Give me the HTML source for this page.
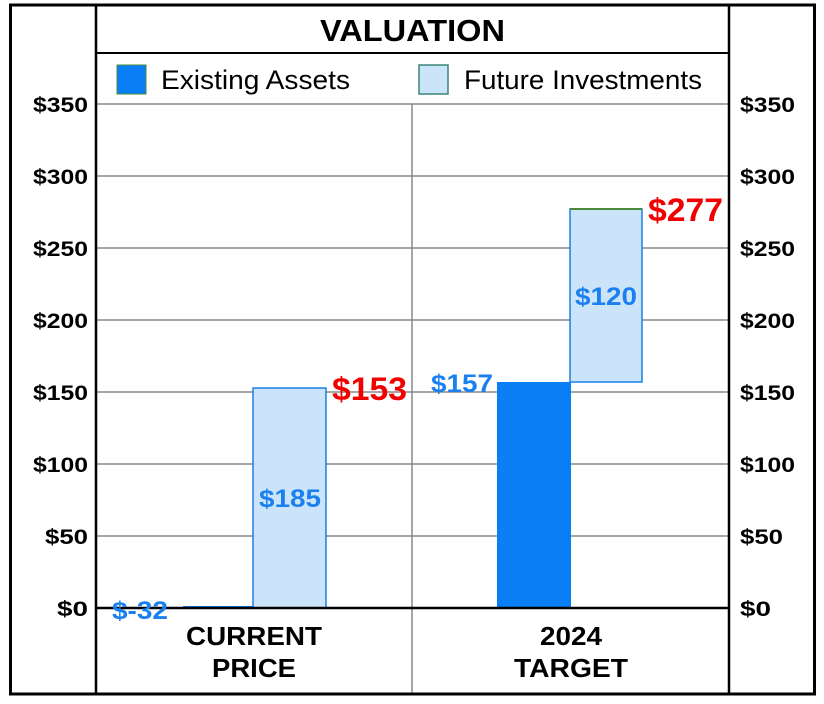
<!DOCTYPE html><html><head><style>body{margin:0;background:#fff}svg{display:block}text{font-family:"Liberation Sans",Arial,sans-serif}</style></head><body>
<svg width="824" height="704" viewBox="0 0 824 704">
<rect x="0" y="0" width="824" height="704" fill="#fff"/>
<g stroke="#888" stroke-width="1.5">
<line x1="96" y1="104" x2="729" y2="104"/><line x1="96" y1="176" x2="729" y2="176"/><line x1="96" y1="248" x2="729" y2="248"/><line x1="96" y1="320" x2="729" y2="320"/><line x1="96" y1="392" x2="729" y2="392"/><line x1="96" y1="464" x2="729" y2="464"/><line x1="96" y1="536" x2="729" y2="536"/>
<line x1="412" y1="104" x2="412" y2="694"/>
</g>
<rect x="253" y="388" width="73" height="220" fill="#cce4fa" stroke="#1a80e8" stroke-width="1.5"/>
<line x1="183" y1="607" x2="253" y2="607" stroke="#0a7ff5" stroke-width="2"/>
<rect x="497" y="382" width="74" height="226" fill="#0a7ff5"/>
<rect x="570" y="209" width="72" height="173" fill="#cce4fa" stroke="#1a80e8" stroke-width="1.5"/>
<line x1="570" y1="209" x2="642" y2="209" stroke="#4a8a3a" stroke-width="2"/>
<line x1="96" y1="608" x2="729" y2="608" stroke="#000" stroke-width="2.5"/>
<rect x="10.5" y="5" width="804" height="689" fill="none" stroke="#000" stroke-width="3"/>
<line x1="96" y1="5" x2="96" y2="694" stroke="#000" stroke-width="2.5"/>
<line x1="729" y1="5" x2="729" y2="694" stroke="#000" stroke-width="2.5"/>
<line x1="96" y1="53" x2="729" y2="53" stroke="#000" stroke-width="2"/>
<text x="320" y="41" font-size="31" font-weight="bold" textLength="185" lengthAdjust="spacingAndGlyphs">VALUATION</text>
<rect x="117" y="65" width="29" height="29" fill="#0a7ff5" stroke="#4a8a3a" stroke-width="1"/>
<text x="161" y="89" font-size="27" textLength="189" lengthAdjust="spacingAndGlyphs">Existing Assets</text>
<rect x="419" y="65" width="29" height="29" fill="#cce4fa" stroke="#1a80e8" stroke-width="1.5"/>
<rect x="419" y="65" width="29" height="29" fill="none" stroke="#4a8a3a" stroke-width="1"/>
<text x="464" y="89" font-size="27" textLength="238" lengthAdjust="spacingAndGlyphs">Future Investments</text>
<g font-size="21" font-weight="bold">
<text x="33" y="112" textLength="55" lengthAdjust="spacingAndGlyphs">$350</text><text x="33" y="184" textLength="55" lengthAdjust="spacingAndGlyphs">$300</text><text x="33" y="256" textLength="55" lengthAdjust="spacingAndGlyphs">$250</text><text x="33" y="328" textLength="55" lengthAdjust="spacingAndGlyphs">$200</text><text x="33" y="400" textLength="55" lengthAdjust="spacingAndGlyphs">$150</text><text x="33" y="472" textLength="55" lengthAdjust="spacingAndGlyphs">$100</text><text x="45" y="544" textLength="43" lengthAdjust="spacingAndGlyphs">$50</text><text x="57" y="616" textLength="31" lengthAdjust="spacingAndGlyphs">$0</text>
<text x="740" y="112" textLength="55" lengthAdjust="spacingAndGlyphs">$350</text><text x="740" y="184" textLength="55" lengthAdjust="spacingAndGlyphs">$300</text><text x="740" y="256" textLength="55" lengthAdjust="spacingAndGlyphs">$250</text><text x="740" y="328" textLength="55" lengthAdjust="spacingAndGlyphs">$200</text><text x="740" y="400" textLength="55" lengthAdjust="spacingAndGlyphs">$150</text><text x="740" y="472" textLength="55" lengthAdjust="spacingAndGlyphs">$100</text><text x="740" y="544" textLength="43" lengthAdjust="spacingAndGlyphs">$50</text><text x="740" y="616" textLength="31" lengthAdjust="spacingAndGlyphs">$0</text>
</g>
<g font-size="26" font-weight="bold">
<text x="186" y="645" textLength="136" lengthAdjust="spacingAndGlyphs">CURRENT</text><text x="212" y="677" textLength="84" lengthAdjust="spacingAndGlyphs">PRICE</text>
<text x="540" y="645" textLength="62" lengthAdjust="spacingAndGlyphs">2024</text><text x="514" y="677" textLength="114" lengthAdjust="spacingAndGlyphs">TARGET</text>
</g>
<g font-size="25" font-weight="bold" fill="#1a80f0">
<text x="112" y="619" textLength="56" lengthAdjust="spacingAndGlyphs">$-32</text>
<text x="259" y="507" textLength="62" lengthAdjust="spacingAndGlyphs">$185</text>
<text x="431" y="392" textLength="62" lengthAdjust="spacingAndGlyphs">$157</text>
<text x="575" y="305" textLength="62" lengthAdjust="spacingAndGlyphs">$120</text>
</g>
<g font-size="32" font-weight="bold" fill="#f00000">
<text x="332" y="400" textLength="75" lengthAdjust="spacingAndGlyphs">$153</text>
<text x="648" y="221" textLength="75" lengthAdjust="spacingAndGlyphs">$277</text>
</g>
</svg></body></html>
